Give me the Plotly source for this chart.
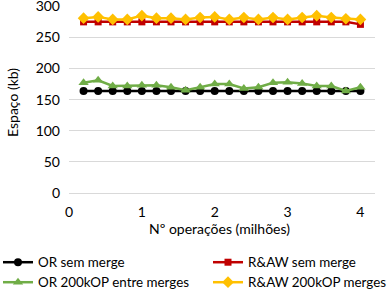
import plotly.graph_objects as go

x_vals = [0.2, 0.4, 0.6, 0.8, 1.0, 1.2, 1.4, 1.6, 1.8, 2.0,
          2.2, 2.4, 2.6, 2.8, 3.0, 3.2, 3.4, 3.6, 3.8, 4.0]
or_sem_merge = [164]*20
raw_sem_merge = [275, 275, 275, 275, 275, 275, 275, 275, 275, 275,
                 275, 275, 275, 275, 275, 275, 275, 275, 275, 271]
or_200k = [177, 181, 172, 172, 173, 173, 170, 165, 170, 175,
           175, 168, 170, 177, 178, 176, 172, 172, 164, 170]
raw_200k = [281, 283, 279, 279, 285, 281, 281, 279, 282, 283,
            279, 282, 279, 282, 279, 282, 285, 282, 280, 279]
y_ticks = [0, 50, 100, 150, 200, 250, 300]
x_ticks = [0, 1, 2, 3, 4]

series = [
    ("OR sem merge", or_sem_merge, "#000000", "circle", 8, "legend"),
    ("R&AW sem merge", raw_sem_merge, "#C00000", "square", 7, "legend2"),
    ("OR 200kOP entre merges", or_200k, "#70AD47", "triangle-up", 9, "legend3"),
    ("R&AW 200kOP merges", raw_200k, "#FFC000", "diamond", 9, "legend4"),
]

fig = go.Figure()
for name, ys, color, sym, size, lg in series:
    fig.add_trace(go.Scatter(
        x=x_vals, y=ys, name=name, mode="lines+markers",
        line=dict(color=color, width=2.5),
        marker=dict(color=color, symbol=sym, size=size),
        legend=lg,
    ))

FONT = "Lato, Calibri, sans-serif"
FS = 14
LFS = 13.4
L, T, W, H = 69, 6, 306, 187  # plot area in pixels

def px_x(px):
    return (px - L) / W

def px_y(py):
    return (T + H - py) / H

def leg(text_x, row_y):
    # empirical offsets: text starts ~39px right of legend x; row centre ~15px below top
    return dict(
        orientation="h", xref="paper", yref="paper",
        x=px_x(text_x - 39), y=px_y(row_y - 16),
        xanchor="left", yanchor="top",
        font=dict(family=FONT, size=LFS, color="#000000"),
        itemwidth=30, bgcolor="rgba(0,0,0,0)",
    )

fig.update_layout(
    width=390, height=292,
    margin=dict(l=L, r=390 - L - W, t=T, b=292 - T - H, autoexpand=False),
    paper_bgcolor="white", plot_bgcolor="white",
    font=dict(family=FONT, size=FS, color="#000000"),
    showlegend=True,
    legend=leg(37, 263),
    legend2=leg(247, 263),
    legend3=leg(37, 283),
    legend4=leg(247, 283),
    xaxis=dict(
        range=[0, 4.2], tickmode="array", tickvals=x_ticks,
        showgrid=False, zeroline=False,
        showline=True, linecolor="#D9D9D9", linewidth=1,
        ticks="", ticklabelstandoff=6,
    ),
    yaxis=dict(
        range=[0, 300.5], tickmode="array", tickvals=y_ticks,
        showgrid=True, gridcolor="#D9D9D9", gridwidth=1,
        zeroline=False, showline=False, ticks="", ticklabelstandoff=8,
        ticklabeloverflow="allow",
    ),
    annotations=[
        dict(text="Nº operações (milhões)", xref="paper", yref="paper",
             x=px_x(219.5), y=px_y(228), xanchor="center", yanchor="middle",
             showarrow=False, font=dict(family=FONT, size=FS)),
        dict(text="Espaço (kb)", xref="paper", yref="paper",
             x=px_x(12), y=px_y(103), xanchor="center", yanchor="middle",
             textangle=-90, showarrow=False, font=dict(family=FONT, size=FS)),
    ],
)

fig.write_html(
    "out.html",
    config={"displayModeBar": False},
    post_script="document.body.style.margin='0';document.body.style.overflow='hidden';",
)
